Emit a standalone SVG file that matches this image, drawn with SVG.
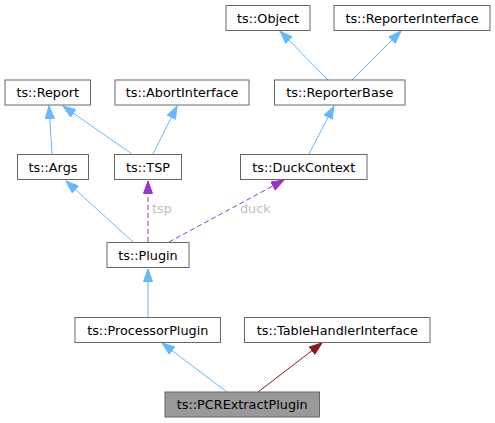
<svg xmlns="http://www.w3.org/2000/svg" width="495" height="423" viewBox="0 0 495 423">
<style>
.box{fill:#ffffff;stroke:#666666;stroke-width:1}
.cur{fill:#999999;stroke:#666666;stroke-width:1}
.lbl{font-family:"DejaVu Sans",sans-serif;font-size:12.8px;fill:#000000;text-anchor:middle}
.el{font-family:"DejaVu Sans",sans-serif;font-size:12.8px;fill:#c0c0c0;text-anchor:start}
.inh{fill:none;stroke:#63b8ff;stroke-width:1}
.use{fill:none;stroke:#9a32cd;stroke-width:1;stroke-dasharray:5,3}
.red{fill:none;stroke:#8b1a1a;stroke-width:1}
</style>
<defs>
<marker id="ab" markerUnits="userSpaceOnUse" markerWidth="14" markerHeight="10" refX="13" refY="5" orient="auto" viewBox="0 0 14 10"><path d="M0.5,0.5 L13,5 L0.5,9.5 z" fill="#63b8ff" stroke="#63b8ff"/></marker>
<marker id="ap" markerUnits="userSpaceOnUse" markerWidth="14" markerHeight="10" refX="13" refY="5" orient="auto" viewBox="0 0 14 10"><path d="M0.5,0.5 L13,5 L0.5,9.5 z" fill="#9a32cd" stroke="#9a32cd"/></marker>
<marker id="ar" markerUnits="userSpaceOnUse" markerWidth="14" markerHeight="10" refX="13" refY="5" orient="auto" viewBox="0 0 14 10"><path d="M0.5,0.5 L13,5 L0.5,9.5 z" fill="#8b1a1a" stroke="#8b1a1a"/></marker>
</defs>
<g id="connectors">
<line class="inh" x1="52" y1="154" x2="49" y2="106" marker-end="url(#ab)"/>
<line class="inh" x1="132" y1="154" x2="63" y2="106" marker-end="url(#ab)"/>
<line class="inh" x1="153" y1="154" x2="177" y2="106" marker-end="url(#ab)"/>
<line class="inh" x1="328" y1="80" x2="280" y2="31" marker-end="url(#ab)"/>
<line class="inh" x1="352" y1="80" x2="401" y2="31" marker-end="url(#ab)"/>
<line class="inh" x1="309" y1="154" x2="334" y2="106" marker-end="url(#ab)"/>
<line class="inh" x1="133" y1="242" x2="66" y2="181" marker-end="url(#ab)"/>
<line class="use" x1="148" y1="242" x2="148" y2="181" marker-end="url(#ap)"/>
<text class="el" x="152" y="213">tsp</text>
<line class="use" x1="169" y1="242" x2="284" y2="180" marker-end="url(#ap)"/>
<text class="el" x="240" y="213">duck</text>
<line class="inh" x1="148" y1="317" x2="148" y2="269" marker-end="url(#ab)"/>
<line class="inh" x1="227" y1="392" x2="162" y2="343" marker-end="url(#ab)"/>
<line class="red" x1="258" y1="392" x2="322" y2="343" marker-end="url(#ar)"/>
</g>
<g id="node-object"><rect class="box" x="226" y="5.5" width="84" height="25"/><text class="lbl" x="268" y="22.5">ts::Object</text></g>
<g id="node-reporterinterface"><rect class="box" x="334" y="5.5" width="156" height="25"/><text class="lbl" x="412" y="22.5">ts::ReporterInterface</text></g>
<g id="node-report"><rect class="box" x="5" y="80" width="85.5" height="25"/><text class="lbl" x="47.75" y="97">ts::Report</text></g>
<g id="node-abortinterface"><rect class="box" x="115" y="80" width="134" height="25"/><text class="lbl" x="182" y="97">ts::AbortInterface</text></g>
<g id="node-reporterbase"><rect class="box" x="274.5" y="80" width="130.5" height="25"/><text class="lbl" x="339.75" y="97">ts::ReporterBase</text></g>
<g id="node-args"><rect class="box" x="17.5" y="154.5" width="71" height="25"/><text class="lbl" x="53" y="171.5">ts::Args</text></g>
<g id="node-tsp"><rect class="box" x="114.5" y="154.5" width="67" height="25"/><text class="lbl" x="148" y="171.5">ts::TSP</text></g>
<g id="node-duckcontext"><rect class="box" x="240.5" y="154.5" width="126.5" height="25"/><text class="lbl" x="303.75" y="171.5">ts::DuckContext</text></g>
<g id="node-plugin"><rect class="box" x="107" y="242.5" width="82" height="25"/><text class="lbl" x="148" y="259.5">ts::Plugin</text></g>
<g id="node-processorplugin"><rect class="box" x="75" y="317.5" width="145.5" height="25"/><text class="lbl" x="147.75" y="334.5">ts::ProcessorPlugin</text></g>
<g id="node-tablehandlerinterface"><rect class="box" x="244.5" y="317.5" width="185.5" height="25"/><text class="lbl" x="337.25" y="334.5">ts::TableHandlerInterface</text></g>
<g id="node-pcrextractplugin"><rect class="cur" x="165" y="392" width="154.5" height="25"/><text class="lbl" x="242.25" y="409">ts::PCRExtractPlugin</text></g>
</svg>
